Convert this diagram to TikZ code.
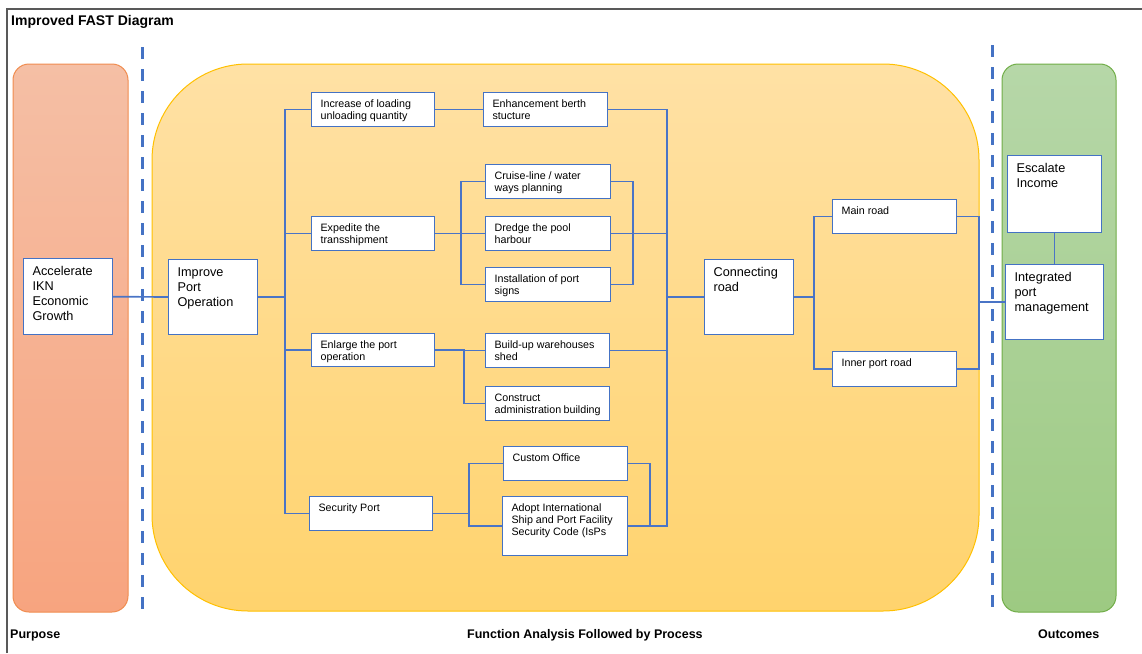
\documentclass[tikz,border=0pt]{standalone}
\usepackage{fontspec}
\setmainfont{Liberation Sans}
\usepackage{xcolor}
\usepackage{tikz}

\definecolor{boxblue}{HTML}{4472C4}
\definecolor{linkblue}{HTML}{4A74C6}
\definecolor{peachtop}{HTML}{F5BFA5}
\definecolor{peachbot}{HTML}{F7A47F}
\definecolor{peachedge}{HTML}{F08C4F}
\definecolor{sandtop}{HTML}{FFE1A5}
\definecolor{sandbot}{HTML}{FFD36D}
\definecolor{sandedge}{HTML}{FFC000}
\definecolor{leaftop}{HTML}{B6D7A8}
\definecolor{leafbot}{HTML}{9DCA82}
\definecolor{leafedge}{HTML}{70AD47}

% text block of a box: width, height, text
\newcommand{\celltext}[3]{\parbox[t][#2pt][t]{#1pt}{\raggedright #3}}

\begin{document}
\begin{tikzpicture}[
    x=1pt, y=-1pt,
    func/.style={draw=boxblue, fill=white, line width=1.2pt, anchor=north west,
        inner xsep=9pt, inner ysep=7pt, font=\fontsize{10.7}{12}\selectfont},
    bigfunc/.style={func, inner ysep=8pt, font=\fontsize{12.7}{15}\selectfont},
    link/.style={draw=linkblue, line width=1.7pt},
    divider/.style={draw=boxblue, line width=3pt, dash pattern=on 12pt off 10pt},
    caption/.style={anchor=base west, inner sep=0pt, font=\fontsize{12.5}{14}\selectfont\bfseries}
]
    \useasboundingbox (0,0) rectangle (1142,653);

    % Frame and title
    \draw[black!65, line width=1.5pt] (7,653) -- (7,9) -- (1142,9);
    \node[caption, font=\fontsize{14}{16}\selectfont\bfseries] (title) at (11,25) {Improved FAST Diagram};

    % Panels
    \path[draw=peachedge, line width=1pt, top color=peachtop, bottom color=peachbot, rounded corners=16pt]
        (13,64) rectangle (128,612);
    \path[draw=sandedge, line width=1pt, top color=sandtop, bottom color=sandbot, rounded corners=96pt]
        (152,64) rectangle (979,611);
    \path[draw=leafedge, line width=1pt, top color=leaftop, bottom color=leafbot, rounded corners=16pt]
        (1002,64) rectangle (1116,612);

    % Dividers
    \draw[divider] (142,47) -- (142,612);
    \draw[divider] (992,45) -- (992,612);

    % Purpose
    \node[bigfunc] (accel) at (23,258) {\celltext{71}{60}{Accelerate\\IKN\\Economic\\Growth}};

    % Functions
    \node[bigfunc] (improve) at (168,259) {\celltext{71}{59}{Improve\\Port\\Operation}};

    \node[func] (incr) at (311,92) {\celltext{105}{20}{Increase of loading\\unloading quantity}};
    \node[func] (enhance) at (483,92) {\celltext{106}{20}{Enhancement berth\\stucture}};

    \node[func] (exped) at (311,216) {\celltext{105}{20}{Expedite the\\transshipment}};
    \node[func] (cruise) at (485,164) {\celltext{107}{20}{Cruise-line / water\\ways planning}};
    \node[func] (dredge) at (485,216) {\celltext{107}{20}{Dredge the pool\\harbour}};
    \node[func] (install) at (485,267) {\celltext{107}{20}{Installation of port\\signs}};

    \node[func] (enlarge) at (311,333) {\celltext{105}{19}{Enlarge the port\\operation}};
    \node[func] (buildup) at (485,333) {\celltext{106}{20}{Build-up warehouses\\shed}};
    \node[func] (construct) at (485,386) {\celltext{106}{20}{Construct\\administration~building}};

    \node[func] (security) at (309,496) {\celltext{105}{20}{Security Port}};
    \node[func] (custom) at (503,446) {\celltext{106}{20}{Custom Office}};
    \node[func] (adopt) at (502,496) {\celltext{107}{45}{Adopt International\\Ship and Port Facility\\Security Code (IsPs}};

    \node[bigfunc] (connect) at (704,259) {\celltext{71}{59}{Connecting\\road}};
    \node[func] (mainroad) at (832,199) {\celltext{106}{20}{Main road}};
    \node[func] (inner) at (832,351) {\celltext{106}{21}{Inner port road}};

    % Outcomes
    \node[bigfunc] (escalate) at (1007,155) {\celltext{76}{61}{Escalate\\Income}};
    \node[bigfunc] (integ) at (1005,264) {\celltext{80}{59}{Integrated\\port\\management}};

    % Links
    \draw[link] (accel) -- (improve);
    \draw[link] (improve.east) -- ++(27,0) |- (incr.west);
    \draw[link] (improve.east) -- ++(27,0) |- (exped.west);
    \draw[link] (improve.east) -- ++(27,0) |- (enlarge.west);
    \draw[link] (improve.east) -- ++(27,0) |- (security.west);

    \draw[link] (incr) -- (enhance);
    \draw[link] (exped.east) -- ++(26,0) |- (cruise.west);
    \draw[link] (exped.east) -- ++(26,0) |- (dredge.west);
    \draw[link] (exped.east) -- ++(26,0) |- (install.west);
    \draw[link] (cruise.east) -- ++(22,0) |- (install.east);
    \draw[link] (enlarge.east) -- ++(29,0) |- (buildup.west);
    \draw[link] (enlarge.east) -- ++(29,0) |- (construct.west);
    \draw[link] (security.east) -- ++(36,0) |- (custom.west);
    \draw[link] (security.east) -- ++(36,0) |- (adopt.west);
    \draw[link] (custom.east) -- ++(22,0) |- (adopt.east);

    \draw[link] (enhance.east) -- ++(59,0) |- (connect.west);
    \draw[link] (dredge.east) -- ++(56,0) |- (connect.west);
    \draw[link] (buildup.east) -- ++(57,0) |- (connect.west);
    \draw[link] (adopt.east) -- ++(39,0) |- (connect.west);

    \draw[link] (connect.east) -- ++(20,0) |- (mainroad.west);
    \draw[link] (connect.east) -- ++(20,0) |- (inner.west);
    \draw[link] (mainroad.east) -- ++(22,0) |- (integ.west);
    \draw[link] (inner.east) -- ++(22,0) |- (integ.west);
    \draw[link] (escalate) -- (integ);

    % Captions
    \node[caption] (purpose) at (10,638) {Purpose};
    \node[caption] (process) at (467,638) {Function Analysis Followed by Process};
    \node[caption] (outcome) at (1038,638) {Outcomes};
\end{tikzpicture}
\end{document}
